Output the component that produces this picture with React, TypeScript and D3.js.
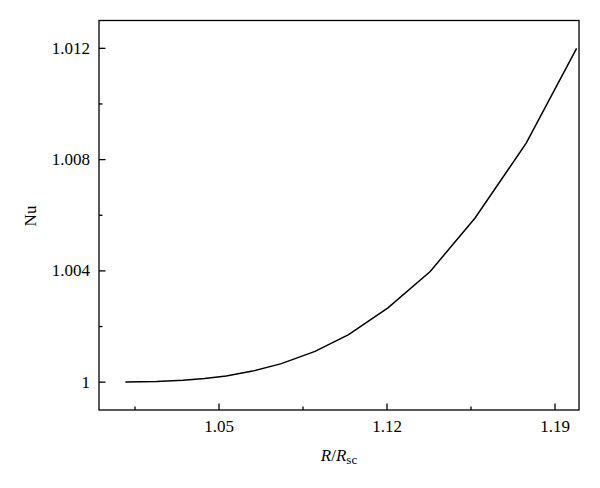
import React from "react";
import * as d3 from "d3";

const xValues = [1.011, 1.024, 1.035, 1.044, 1.053, 1.064, 1.076, 1.09, 1.104, 1.1204, 1.138, 1.1567, 1.178, 1.199];
const nuValues = [1.000002, 1.000021, 1.000065, 1.00013, 1.000226, 1.000398, 1.000667, 1.001108, 1.00171, 1.00267, 1.00398, 1.0059, 1.00859, 1.012];
const xMajorTicks = [1.05, 1.12, 1.19];
const xMinorTicks = [1.015, 1.085, 1.155];
const yMajorTicks = [1, 1.004, 1.008, 1.012];
const yMinorTicks = [1.002, 1.006, 1.01];
const yTickLabels = ["1", "1.004", "1.008", "1.012"];
const xTickLabels = ["1.05", "1.12", "1.19"];

export default function App() {
  const left = 99, right = 579, top = 20.5, bottom = 410;
  const x = d3.scaleLinear().domain([1.0, 1.2]).range([left, right]);
  const y = d3.scaleLinear().domain([0.999, 1.013]).range([bottom, top]);
  const data = xValues.map((v, i) => [v, nuValues[i]] as [number, number]);
  const line = d3.line<[number, number]>().x(d => x(d[0])).y(d => y(d[1]));
  const font = "'Liberation Serif', 'Times New Roman', serif";
  return (
    <svg width={600} height={488} style={{ position: "absolute", left: 0, top: 0, background: "#fff" }}>
      <rect x={left} y={top} width={right - left} height={bottom - top} fill="none" stroke="#000" strokeWidth={1.3} />
      {xMajorTicks.map((t, i) => (
        <g key={"xm" + i}>
          <line x1={x(t)} x2={x(t)} y1={bottom} y2={bottom - 6.5} stroke="#000" strokeWidth={1.3} />
          <text x={x(t)} y={432} textAnchor="middle" fontFamily={font} fontSize={17}>{xTickLabels[i]}</text>
        </g>
      ))}
      {xMinorTicks.map((t, i) => (
        <line key={"xn" + i} x1={x(t)} x2={x(t)} y1={bottom} y2={bottom - 3.5} stroke="#000" strokeWidth={1.3} />
      ))}
      {yMajorTicks.map((t, i) => (
        <g key={"ym" + i}>
          <line x1={left} x2={left + 6.5} y1={y(t)} y2={y(t)} stroke="#000" strokeWidth={1.3} />
          <text x={90} y={y(t) + 5.5} textAnchor="end" fontFamily={font} fontSize={17}>{yTickLabels[i]}</text>
        </g>
      ))}
      {yMinorTicks.map((t, i) => (
        <line key={"yn" + i} x1={left} x2={left + 3.5} y1={y(t)} y2={y(t)} stroke="#000" strokeWidth={1.3} />
      ))}
      <path d={line(data) || ""} fill="none" stroke="#000" strokeWidth={1.5} />
      <text x={339} y={461} textAnchor="middle" fontFamily={font} fontSize={17}>
        <tspan fontStyle="italic">R</tspan>/<tspan fontStyle="italic">R</tspan>
        <tspan fontSize={13} dy={3}>sc</tspan>
      </text>
      <text transform="translate(36,216) rotate(-90)" textAnchor="middle" fontFamily={font} fontSize={17}>Nu</text>
    </svg>
  );
}
